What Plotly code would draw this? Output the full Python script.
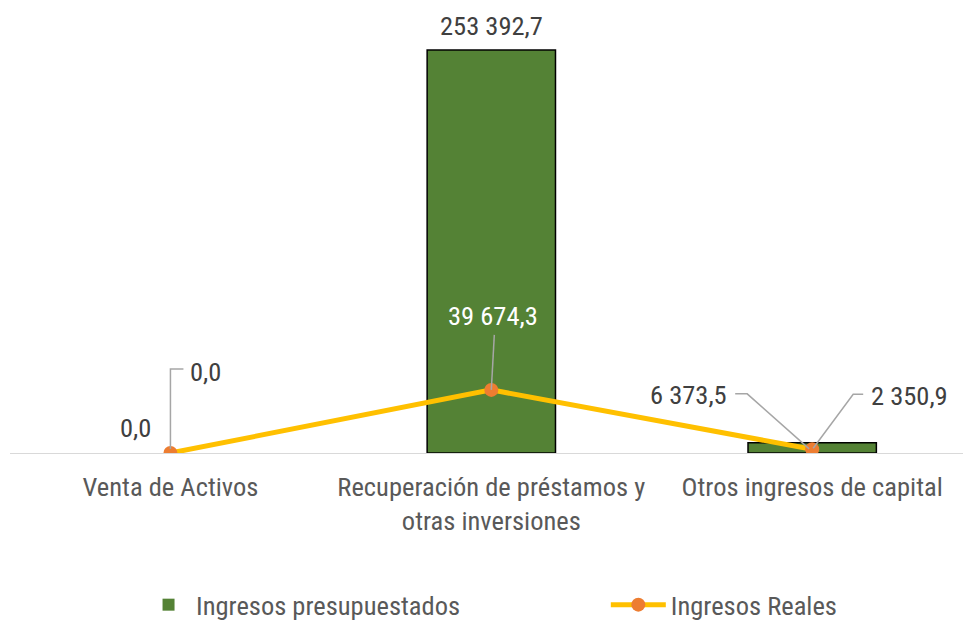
import plotly.graph_objects as go

categories = ["Venta de Activos", "Recuperación de préstamos y<br>otras inversiones", "Otros ingresos de capital"]
presupuestados = [0.0, 253392.7, 6373.5]
reales = [0.0, 39674.3, 2350.9]
label_presup = ["0,0", "253 392,7", "6 373,5"]
label_reales = ["0,0", "39 674,3", "2 350,9"]

FONT = "Roboto Condensed, Liberation Sans Narrow, Arial Narrow, sans-serif"
FS = 26.5
TXT = "#404040"
AX = "#595959"
LEAD = "#A6A6A6"

fig = go.Figure()
fig.add_trace(go.Bar(
    x=categories, y=presupuestados, name="Ingresos presupuestados",
    marker=dict(color="#548235",
                line=dict(color="#000000", width=[0 if v == 0 else 1.5 for v in presupuestados])),
    width=0.4, legend="legend",
))
fig.add_trace(go.Scatter(
    x=categories, y=reales, name="Ingresos Reales", mode="lines+markers",
    line=dict(color="#FFC000", width=5),
    marker=dict(color="#ED7D31", size=14), legend="legend2",
))

ymax = presupuestados[1] * 443 / 403

ann = []
bar_pos = [(0, -35, 26, "center"), (1, 0, 25, "center"), (2, -83, 48, "right")]
for i, xs, ys, xa in bar_pos:
    ann.append(dict(x=categories[i], y=presupuestados[i], xref="x", yref="y",
                    text=label_presup[i], showarrow=False, xshift=xs, yshift=ys,
                    xanchor=xa, yanchor="middle",
                    font=dict(family=FONT, size=FS, color=TXT)))
line_pos = [(0, 18, 82, "left", TXT), (1, 2, 74, "center", "#FFFFFF"), (2, 57, 54, "left", TXT)]
for i, xs, ys, xa, c in line_pos:
    ann.append(dict(x=categories[i], y=reales[i], xref="x", yref="y",
                    text=label_reales[i], showarrow=False, xshift=xs, yshift=ys,
                    xanchor=xa, yanchor="middle",
                    font=dict(family=FONT, size=FS, color=c)))

leaders = [
    (categories[0], reales[0], "M0,4 L0,84 L13,84"),
    (categories[1], reales[1], "M0,0 L3,55"),
    (categories[2], presupuestados[2], "M-3,-6 L-65,49 L-77,49"),
    (categories[2], reales[2], "M1,1 L41,55 L51,55"),
]
shapes = []
for xc, yv, p in leaders:
    shapes.append(dict(type="path", xref="x", yref="y", xsizemode="pixel", ysizemode="pixel",
                       xanchor=xc, yanchor=yv, path=p,
                       line=dict(color=LEAD, width=1.5), layer="above"))

legfont = dict(family=FONT, size=FS, color=AX)
fig.update_layout(
    width=963, height=621,
    margin=dict(l=10, r=0, t=10, b=168, autoexpand=False),
    paper_bgcolor="white", plot_bgcolor="white",
    font=dict(family=FONT, size=FS, color=AX),
    bargap=0.6,
    xaxis=dict(range=[-0.5, 2.47], showline=True, linecolor="#D9D9D9", linewidth=1,
               ticks="", showgrid=False, tickfont=dict(family=FONT, size=FS, color=AX),
               tickangle=0, automargin=False, ticklabelstandoff=10),
    yaxis=dict(range=[0, ymax], visible=False, showgrid=False, zeroline=False, automargin=False),
    showlegend=True,
    legend=dict(orientation="h", x=0.1375, xanchor="left", y=-0.343, yanchor="middle",
                font=legfont, itemwidth=45, bgcolor="rgba(0,0,0,0)"),
    legend2=dict(orientation="h", x=0.6252, xanchor="left", y=-0.343, yanchor="middle",
                 font=legfont, itemwidth=55, bgcolor="rgba(0,0,0,0)"),
    annotations=ann, shapes=shapes,
)
fig.write_html("out.html", config={"displayModeBar": False},
               post_script="document.body.style.margin='0';document.body.style.overflow='hidden';")
